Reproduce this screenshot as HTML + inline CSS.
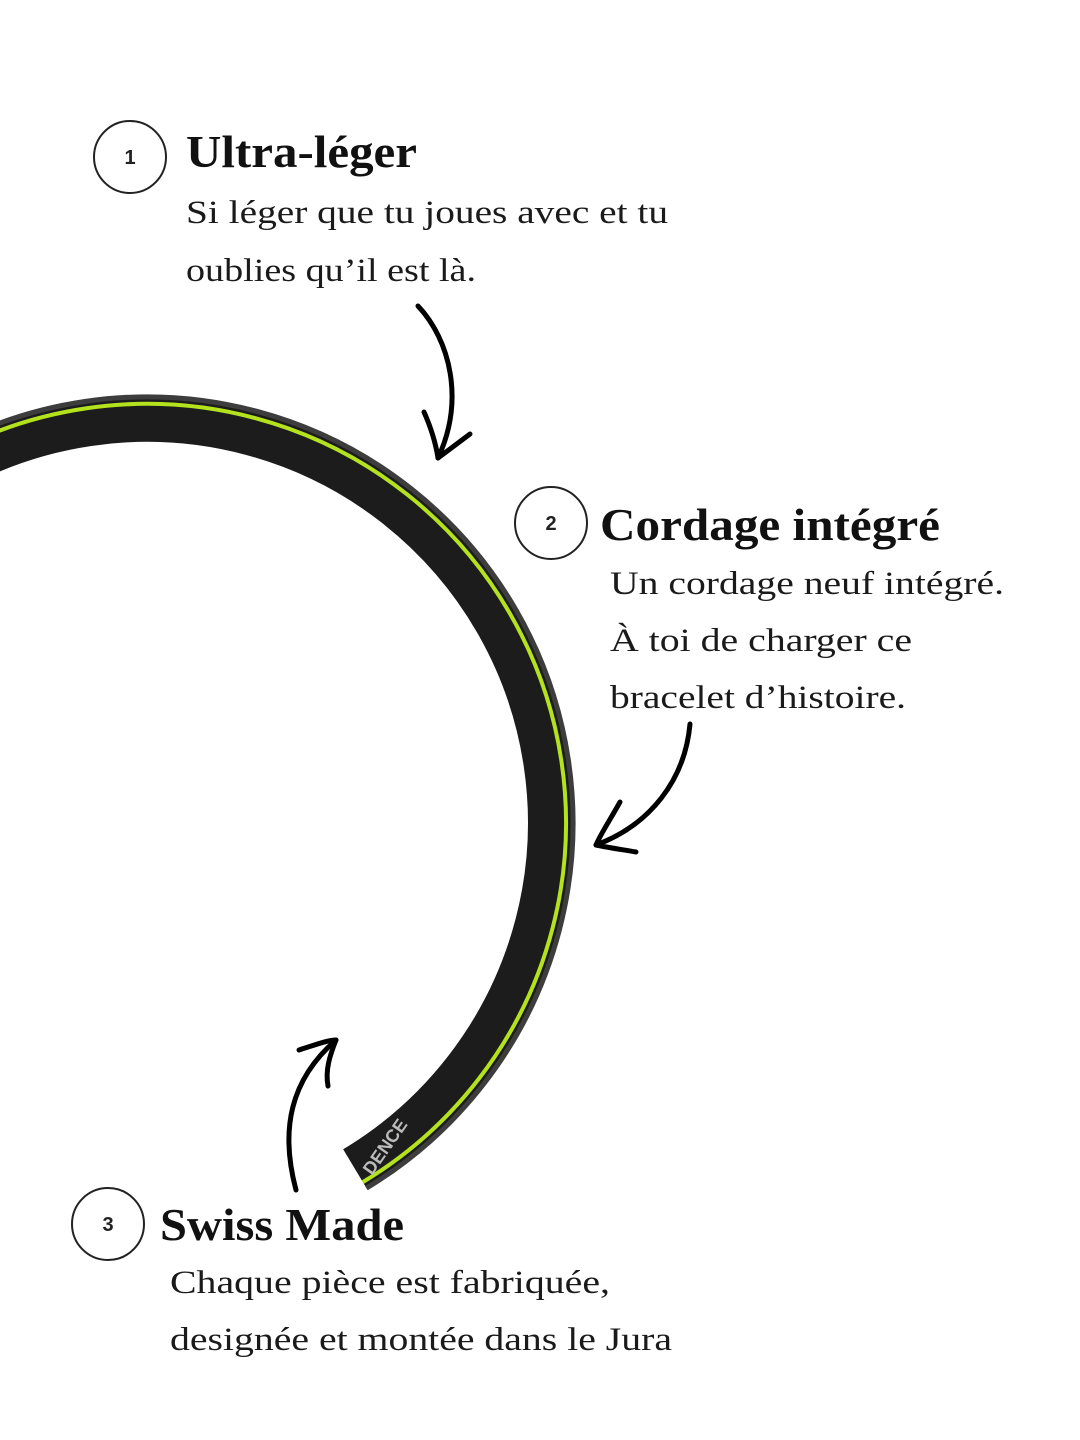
<!DOCTYPE html>
<html><head><meta charset="utf-8"><style>
html,body{margin:0;padding:0;background:#fff;}
svg{display:block;}
.t{font-family:"Liberation Serif",serif;font-weight:bold;font-size:46px;fill:#111;}
.b{font-family:"Liberation Serif",serif;font-size:33px;fill:#1a1a1a;}
.n{font-family:"Liberation Sans",sans-serif;font-weight:bold;font-size:20px;fill:#222;}
</style></head><body>
<svg width="1080" height="1440" viewBox="0 0 1080 1440" xmlns="http://www.w3.org/2000/svg">
<rect width="1080" height="1440" fill="#fff"/>
<!-- bracelet -->
<path d="M -55 473 A 404 404 0 0 1 497 621 A 404 404 0 0 1 355 1169" fill="none" stroke="#1c1c1c" stroke-width="46"/>
<path d="M -66 454 A 426 426 0 0 1 516 610 A 426 426 0 0 1 366.4 1188.1" fill="none" stroke="#3d3d3d" stroke-width="5"/>
<path d="M -62.5 460 A 419 419 0 0 1 509.9 613.5 A 419 419 0 0 1 362.8 1182.1" fill="none" stroke="#b4e21e" stroke-width="4"/>
<text x="0" y="0" transform="translate(372,1176) rotate(-55)" font-family="Liberation Sans,sans-serif" font-weight="bold" font-size="18" fill="#bbb">DENCE</text>
<!-- arrows -->
<g fill="none" stroke="#000" stroke-width="5" stroke-linecap="round" stroke-linejoin="round">
<path d="M418 306 C 450 340 465 400 438 458"/>
<path d="M424 412 C 432 430 436 445 438 458 L 470 434"/>
<path d="M690 724 C 685 780 650 825 596 845"/>
<path d="M620 802 C 610 820 600 835 596 845 C 610 848 625 850 636 852"/>
<path d="M296 1190 C 280 1130 290 1080 336 1040"/>
<path d="M299 1050 C 315 1045 328 1040 336 1040 C 330 1055 325 1070 328 1086"/>
</g>
<!-- circles -->
<g fill="none" stroke="#222" stroke-width="2">
<circle cx="130" cy="157" r="36"/>
<circle cx="551" cy="523" r="36"/>
<circle cx="108" cy="1224" r="36"/>
</g>
<text class="n" x="130" y="164" text-anchor="middle">1</text>
<text class="n" x="551" y="530" text-anchor="middle">2</text>
<text class="n" x="108" y="1231" text-anchor="middle">3</text>
<!-- texts -->
<text class="t" x="186" y="167" textLength="231" lengthAdjust="spacingAndGlyphs">Ultra-léger</text>
<text class="b" x="186" y="223" textLength="482" lengthAdjust="spacingAndGlyphs">Si léger que tu joues avec et tu</text>
<text class="b" x="186" y="281" textLength="290" lengthAdjust="spacingAndGlyphs">oublies qu’il est là.</text>
<text class="t" x="600" y="540" textLength="340" lengthAdjust="spacingAndGlyphs">Cordage intégré</text>
<text class="b" x="610" y="594" textLength="394" lengthAdjust="spacingAndGlyphs">Un cordage neuf intégré.</text>
<text class="b" x="610" y="651" textLength="302" lengthAdjust="spacingAndGlyphs">À toi de charger ce</text>
<text class="b" x="610" y="708" textLength="296" lengthAdjust="spacingAndGlyphs">bracelet d’histoire.</text>
<text class="t" x="160" y="1240" textLength="244" lengthAdjust="spacingAndGlyphs">Swiss Made</text>
<text class="b" x="170" y="1293" textLength="440" lengthAdjust="spacingAndGlyphs">Chaque pièce est fabriquée,</text>
<text class="b" x="170" y="1350" textLength="502" lengthAdjust="spacingAndGlyphs">designée et montée dans le Jura</text>
</svg>
</body></html>
